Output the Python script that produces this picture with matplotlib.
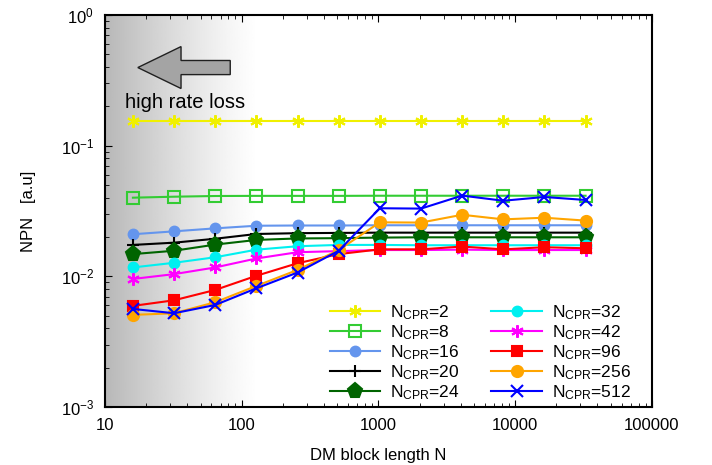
import numpy as np
import matplotlib
matplotlib.use("Agg")
import matplotlib.pyplot as plt
from matplotlib.patches import FancyArrow

plt.rcParams['font.family'] = ['Liberation Sans', 'DejaVu Sans']
plt.rcParams['mathtext.fontset'] = 'custom'
plt.rcParams['mathtext.rm'] = 'Liberation Sans'
plt.rcParams['mathtext.it'] = 'Liberation Sans:italic'
plt.rcParams['mathtext.bf'] = 'Liberation Sans:bold'

# DM block lengths
N = [16, 32, 64, 128, 256, 512, 1024, 2048, 4096, 8192, 16384, 32768]

npn_2 = [0.155, 0.155, 0.155, 0.155, 0.155, 0.155, 0.155, 0.155, 0.155, 0.155, 0.155, 0.155]
npn_8 = [0.040, 0.0407, 0.0412, 0.0413, 0.0413, 0.0413, 0.0414, 0.0414, 0.0414, 0.0414, 0.0414, 0.0414]
npn_16 = [0.021, 0.0221, 0.0233, 0.0244, 0.0245, 0.0245, 0.0246, 0.0246, 0.0246, 0.0246, 0.0246, 0.0246]
npn_20 = [0.0174, 0.0181, 0.0194, 0.0211, 0.0214, 0.0215, 0.0216, 0.0216, 0.0216, 0.0216, 0.0216, 0.0216]
npn_24 = [0.0148, 0.0157, 0.0175, 0.0190, 0.0195, 0.0196, 0.0198, 0.0199, 0.0199, 0.0199, 0.0199, 0.0199]
npn_32 = [0.0117, 0.0127, 0.0140, 0.0160, 0.0170, 0.0174, 0.0174, 0.0173, 0.0173, 0.0173, 0.0173, 0.0173]
npn_42 = [0.00955, 0.0104, 0.0117, 0.0137, 0.0153, 0.0156, 0.0159, 0.0159, 0.0160, 0.0159, 0.0159, 0.0159]
npn_96 = [0.00594, 0.00656, 0.00787, 0.0101, 0.0126, 0.0148, 0.0161, 0.0161, 0.0169, 0.0161, 0.0167, 0.0164]
npn_256 = [0.00507, 0.00522, 0.00634, 0.00845, 0.0112, 0.0159, 0.0259, 0.0258, 0.0296, 0.0273, 0.0281, 0.0267]
npn_512 = [0.00563, 0.00522, 0.00604, 0.0081, 0.0107, 0.0157, 0.0332, 0.0330, 0.0415, 0.0379, 0.0405, 0.0384]

series = [
    ("2", npn_2, "#f0f000", (6, 2, 0), 9, True),
    ("8", npn_8, "#33cc33", "s", 8, False),
    ("16", npn_16, "#6495ed", "o", 7, True),
    ("20", npn_20, "black", "+", 9, True),
    ("24", npn_24, "#006400", "p", 11, True),
    ("32", npn_32, "#00f0f0", "o", 7, True),
    ("42", npn_42, "#ff00ff", (6, 2, 0), 9, True),
    ("96", npn_96, "#ff0000", "s", 7, True),
    ("256", npn_256, "#ffa500", "o", 8, True),
    ("512", npn_512, "#0000ff", "x", 8, True),
]

fig = plt.figure(figsize=(7.12, 4.65), dpi=100)
ax = fig.add_axes([0.1475, 0.1247, 0.768, 0.843])

# gray gradient on the left
t = np.linspace(0, 1, 512)
grad = (0.72 + 0.28 * (1 - (1 - t) ** 1.2)).reshape(1, -1)
ax.imshow(grad, extent=[0, 0.28, 0, 1], transform=ax.transAxes, aspect='auto',
          cmap='gray', vmin=0, vmax=1, zorder=0, interpolation='bilinear')

for name, vals, col, mk, ms, filled in series:
    ax.plot(N, vals, color=col, marker=mk, markersize=ms, lw=1.5,
            mfc=col if filled else 'none', mec=col, mew=1.5,
            label=r'N$_{\mathrm{CPR}}$=' + name, zorder=3)

ax.set_xscale('log')
ax.set_yscale('log')
ax.set_xlim(10, 100000)
ax.set_ylim(1e-3, 1)
ax.set_xticks([10, 100, 1000, 10000, 100000])
ax.set_xticklabels(['10', '100', '1000', '10000', '100000'])
ax.tick_params(which='both', direction='in', top=True, right=False, labelsize=12)
ax.tick_params(which='major', length=5, pad=8)
ax.tick_params(which='minor', length=3)
for s in ax.spines.values():
    s.set_linewidth(1.5)

ax.set_xlabel('DM block length N', fontsize=12, labelpad=11)
ax.set_ylabel('NPN   [a.u]', fontsize=12, labelpad=18)

arr = FancyArrow(0.229, 0.866, -0.169, 0, width=0.036, head_width=0.107,
                 head_length=0.079, length_includes_head=True, transform=ax.transAxes,
                 facecolor='#a4a4a4', edgecolor='#202020', lw=1.0, zorder=4)
ax.add_patch(arr)
ax.text(0.036, 0.776, 'high rate loss', transform=ax.transAxes, fontsize=14.5,
        ha='left', va='center', zorder=4)

ax.legend(ncol=2, loc='lower left', bbox_to_anchor=(0.398, -0.005), frameon=False,
          fontsize=12.5, handlelength=2.9, handletextpad=0.6, columnspacing=1.8,
          labelspacing=0.08, borderaxespad=0.0)

fig.savefig('out.png', dpi=100)
